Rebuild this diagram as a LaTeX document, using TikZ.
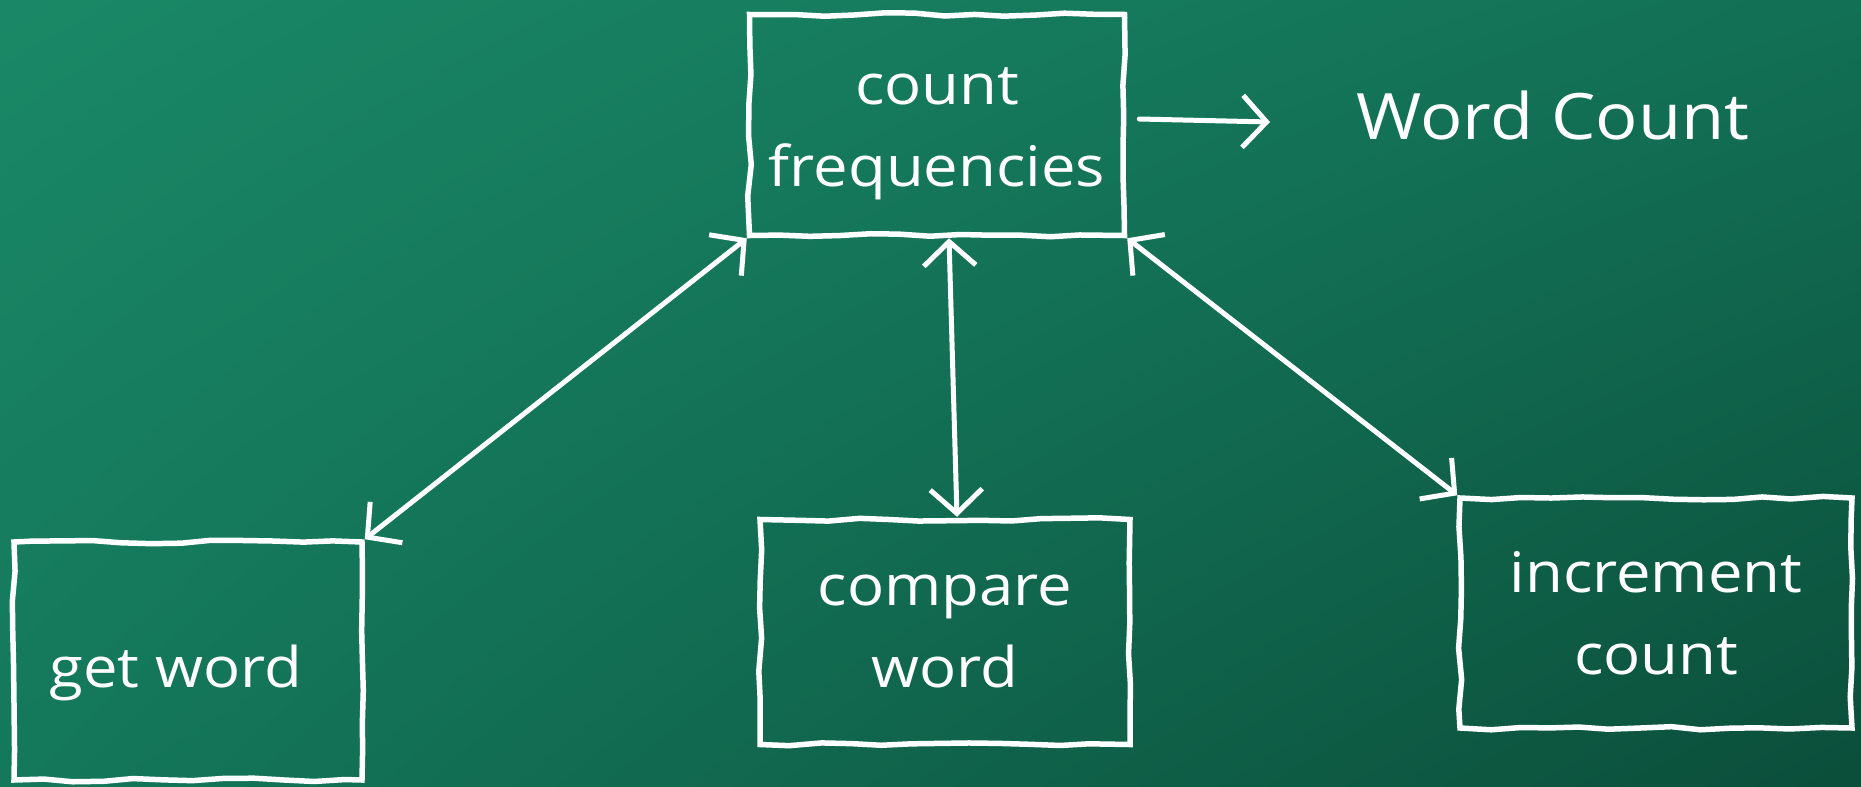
\documentclass[tikz,border=0pt]{standalone}
\usepackage{fontspec}
\setmainfont{Open Sans}[FakeStretch=1.1]
\usetikzlibrary{arrows.meta,decorations.pathmorphing,calc,shadings}
\definecolor{bgTL}{RGB}{26,136,102}
\definecolor{bgTR}{RGB}{18,112,84}
\definecolor{bgBL}{RGB}{20,120,90}
\definecolor{bgBR}{RGB}{11,78,58}
\tikzset{
  chalkbox/.style={draw=white, line width=5.5pt, text=white, align=center,
    decorate, decoration={random steps, segment length=30pt, amplitude=1.8pt},
    font=\fontsize{56}{82}\selectfont, inner sep=0pt},
  chalkline/.style={draw=white, line width=5pt, line cap=round,
    {Straight Barb[length=24pt,width=52pt,line width=5pt]}-{Straight Barb[length=24pt,width=52pt,line width=5pt]}},
  chalkout/.style={draw=white, line width=5pt, line cap=round,
    -{Straight Barb[length=24pt,width=52pt,line width=5pt]}},
  label/.style={text=white, font=\fontsize{64}{70}\selectfont, inner sep=0pt}
}
\begin{document}
\begin{tikzpicture}[x=1pt,y=-1pt]
\pgfmathsetseed{7}
\shade[upper left=bgTL, upper right=bgTR, lower left=bgBL, lower right=bgBR] (0,0) rectangle (1861,787);
\useasboundingbox (0,0) rectangle (1861,787);

\node[chalkbox, minimum width=375pt, minimum height=221pt] (cf) at (937,125) {\raisebox{-9pt}[\height][\depth]{count}\\\raisebox{-9pt}[\height][\depth]{frequencies}};
\node[chalkbox, minimum width=348pt, minimum height=238pt] (gw) at (188,661) {\hspace*{-12pt}\raisebox{-12pt}[\height][\depth]{get word}\hspace*{12pt}};
\node[chalkbox, minimum width=370pt, minimum height=225pt] (cw) at (945,632) {compare\\word};
\node[chalkbox, minimum width=392pt, minimum height=230pt] (ic) at (1656,613) {increment\\count};
\node[label] (wc) at (1553,115) {Word Count};
\coordinate (out) at (1270,122);

\draw[chalkline] (gw.north east) -- (cf.south west);
\draw[chalkline] ([xshift=12pt]cf.south) -- ([xshift=12pt]cw.north);
\draw[chalkline] (cf.south east) -- (ic.north west);
\draw[chalkout] ([xshift=12pt,yshift=6pt]cf.east) -- (out);
\end{tikzpicture}
\end{document}
